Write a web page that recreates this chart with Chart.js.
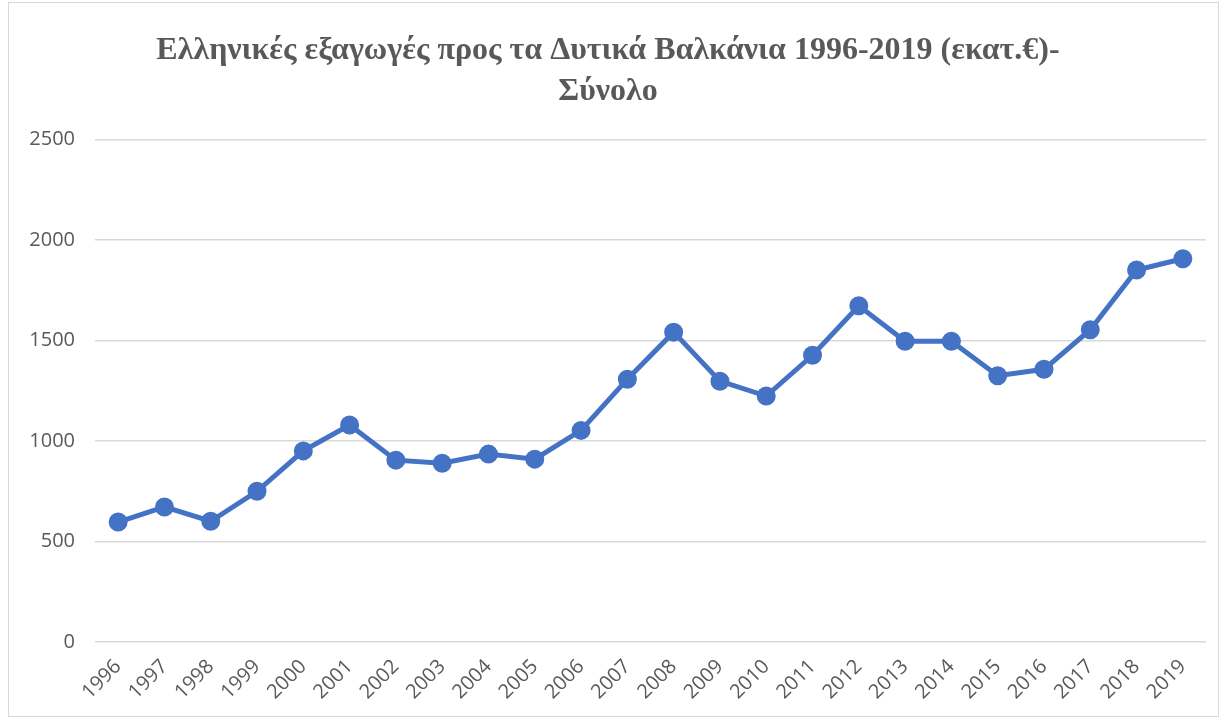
<!DOCTYPE html>
<html>
<head>
<meta charset="utf-8">
<script src="https://cdn.jsdelivr.net/npm/chart.js@4"></script>
<style>
  html, body { margin: 0; padding: 0; background: #fff; }
  #wrap { width: 1224px; height: 722px; }
</style>
</head>
<body>
<div id="wrap"><canvas id="myChart" width="1224" height="722"></canvas></div>
<script>
// data
const years = ["1996", "1997", "1998", "1999", "2000", "2001", "2002", "2003", "2004", "2005", "2006", "2007",
  "2008", "2009", "2010", "2011", "2012", "2013", "2014", "2015", "2016", "2017", "2018", "2019"];
const exportsTotal = [597, 672, 601, 750, 951, 1080, 905, 890, 935, 910, 1053, 1308,
  1542, 1298, 1224, 1427, 1673, 1497, 1497, 1325, 1357, 1554, 1851, 1907];
const yTicks = [0, 500, 1000, 1500, 2000, 2500];
const titleLines = ["Ελληνικές εξαγωγές προς τα Δυτικά Βαλκάνια 1996-2019 (εκατ.€)-", "Σύνολο"];

// light frame round the whole chart, like the spreadsheet chart area
const frame = {
  id: "frame",
  beforeDraw(chart) {
    const ctx = chart.ctx;
    ctx.save();
    ctx.fillStyle = "#fff";
    ctx.fillRect(0, 0, chart.width, chart.height);
    ctx.strokeStyle = "#d9d9d9";
    ctx.lineWidth = 1;
    ctx.strokeRect(8.5, 2.5, chart.width - 14, chart.height - 8);
    ctx.restore();
  },
};

const config = {
  type: "line",
  data: {
    labels: years,
    datasets: [
      {
        label: "Σύνολο",
        data: exportsTotal,
        borderColor: "#4472C4",
        backgroundColor: "#4472C4",
        borderWidth: 5,
        pointRadius: 7,
        pointHoverRadius: 7,
        tension: 0,
      },
    ],
  },
  options: {
    responsive: false,
    animation: false,
    layout: { padding: { left: 10, right: 18, top: 0, bottom: 14 } },
    plugins: {
      legend: { display: false },
      tooltip: { enabled: false },
      title: {
        display: true,
        text: titleLines,
        color: "#595959",
        font: { family: "'Liberation Serif', 'Times New Roman', serif", size: 32, weight: "bold", lineHeight: 1.26 },
        padding: { top: 31, bottom: 28 },
      },
    },
    scales: {
      x: {
        offset: true,
        grid: { display: false },
        border: { display: false },
        ticks: {
          color: "#595959",
          font: { family: "'Open Sans', sans-serif", size: 20 },
          minRotation: 45,
          maxRotation: 45,
          padding: 5,
        },
        afterFit: (scale) => { scale.height = 66; },
      },
      y: {
        min: 0,
        max: 2500,
        afterBuildTicks: (scale) => { scale.ticks = yTicks.map((v) => ({ value: v })); },
        grid: { color: "#d9d9d9", lineWidth: 1.5, drawTicks: false },
        border: { display: false },
        ticks: {
          color: "#595959",
          font: { family: "'Open Sans', sans-serif", size: 20 },
          padding: 20,
          callback: (v) => String(v),
        },
        afterFit: (scale) => { scale.width = 85; },
      },
    },
  },
  plugins: [frame],
};

const myChart = new Chart(document.getElementById("myChart"), config);
</script>
</body>
</html>
